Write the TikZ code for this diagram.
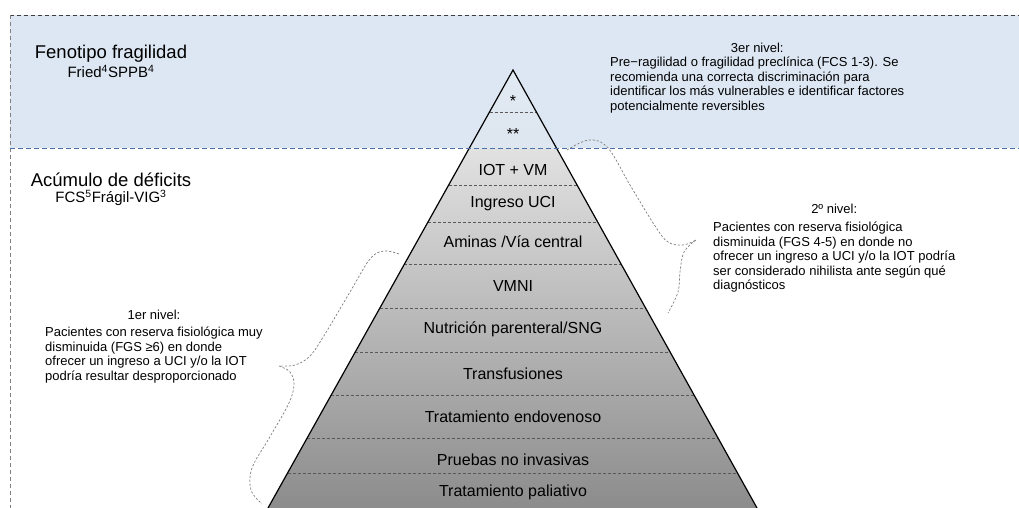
\documentclass[tikz,border=0pt]{standalone}
\usepackage{fontspec}
\setmainfont{Liberation Sans}
\usetikzlibrary{positioning,calc}
\definecolor{bandblue}{RGB}{221,231,243}
\definecolor{lineblue}{RGB}{74,112,168}
\definecolor{framegray}{RGB}{60,60,60}
\definecolor{bracegray}{RGB}{125,125,125}
\definecolor{pyrtop}{RGB}{244,244,244}
\definecolor{pyrmid}{RGB}{236,236,236}
\definecolor{pyrbot}{RGB}{140,140,140}
\tikzset{
  title/.style={font=\fontsize{18.5}{21}\selectfont, inner sep=0pt},
  subtitle/.style={font=\fontsize{15}{17}\selectfont, inner sep=0pt},
  nivhead/.style={font=\fontsize{13}{14.5}\selectfont, inner sep=0pt},
  nivbody/.style={font=\fontsize{13}{14.5}\selectfont, inner sep=0pt, align=left},
  rowlabel/.style={font=\fontsize{16}{18}\selectfont, inner sep=0pt},
  rowline/.style={draw=black!65, dash pattern=on 3pt off 2pt, line width=0.9pt},
  bracepath/.style={draw=bracegray, dash pattern=on 2.2pt off 1.8pt, line width=0.7pt},
}
\begin{document}
\begin{tikzpicture}[x=1pt,y=-1pt]
\useasboundingbox (0,0) rectangle (1019,508);
% band and frame
\fill[bandblue] (10,15) rectangle (1019,148);
\draw[framegray, dash pattern=on 4pt off 3pt, line width=0.9pt] (10,15) -- (1019,15);
\draw[gray, dash pattern=on 4pt off 3pt, line width=0.9pt] (10,15) -- (10,508);

% pyramid
\coordinate (apex) at (513,70);
\coordinate (bl) at (268,508);
\coordinate (br) at (757,508);
\shade[top color=pyrtop, middle color=pyrmid, bottom color=pyrbot] (apex) -- (br) -- (bl) -- cycle;
\begin{scope}
  \clip (0,0) rectangle (1019,148);
  \fill[bandblue, opacity=.8] (apex) -- (br) -- (bl) -- cycle;
\end{scope}
\draw[rowline] ($(apex)!.0959!(bl)$) -- ($(apex)!.0959!(br)$);
\draw[rowline] ($(apex)!.2626!(bl)$) -- ($(apex)!.2626!(br)$);
\draw[rowline] ($(apex)!.3470!(bl)$) -- ($(apex)!.3470!(br)$);
\draw[rowline] ($(apex)!.4429!(bl)$) -- ($(apex)!.4429!(br)$);
\draw[rowline] ($(apex)!.5434!(bl)$) -- ($(apex)!.5434!(br)$);
\draw[rowline] ($(apex)!.6438!(bl)$) -- ($(apex)!.6438!(br)$);
\draw[rowline] ($(apex)!.7420!(bl)$) -- ($(apex)!.7420!(br)$);
\draw[rowline] ($(apex)!.8402!(bl)$) -- ($(apex)!.8402!(br)$);
\draw[rowline] ($(apex)!.9201!(bl)$) -- ($(apex)!.9201!(br)$);
\draw[line width=1.2pt] (bl) -- (apex) -- (br);
\draw[lineblue, dash pattern=on 5pt off 3pt, line width=1pt] (10,148) -- (1019,148);

\node[rowlabel] (r1) at (513,101) {*};
\node[rowlabel] (r2) at (513,134) {**};
\node[rowlabel] (r3) at (513,170) {IOT + VM};
\node[rowlabel] (r4) at (513,204) {Ingreso UCI};
\node[rowlabel] (r5) at (513,242) {Aminas /Vía central};
\node[rowlabel] (r6) at (513,286) {VMNI};
\node[rowlabel] (r7) at (513,329) {Nutrición parenteral/SNG};
\node[rowlabel] (r8) at (513,374) {Transfusiones};
\node[rowlabel] (r9) at (513,417) {Tratamiento endovenoso};
\node[rowlabel] (r10) at (513,460) {Pruebas no invasivas};
\node[rowlabel] (r11) at (513,492) {Tratamiento paliativo};

% left titles
\node[title] (feno) at (111,54) {Fenotipo fragilidad};
\node[subtitle, below=2.5pt of feno] (fenoref) {Fried\textsuperscript{4}SPPB\textsuperscript{4}};
\node[title] (acum) at (111,180) {Acúmulo de déficits};
\node[subtitle, below=2.5pt of acum] (acumref) {FCS\textsuperscript{5}Frágil-VIG\textsuperscript{3}};

% levels
\node[nivbody, anchor=north west] (niv3body) at (610,57) {Pre−ragilidad o fragilidad preclínica (FCS 1-3). Se\\recomienda una correcta discriminación para\\identificar los más vulnerables e identificar factores\\potencialmente reversibles};
\node[nivhead, above=4.5pt of niv3body] (niv3) {3er nivel:};
\node[nivbody, anchor=north west] (niv2body) at (713,222) {Pacientes con reserva fisiológica\\disminuida (FGS 4-5) en donde no\\ofrecer un ingreso a UCI y/o la IOT podría\\ser considerado nihilista ante según qué\\diagnósticos};
\node[nivhead, above=8pt of niv2body] (niv2) {2º nivel:};
\node[nivbody, anchor=north west] (niv1body) at (45,327) {Pacientes con reserva fisiológica muy\\disminuida (FGS ≥6) en donde\\ofrecer un ingreso a UCI y/o la IOT\\podría resultar desproporcionado};
\node[nivhead, above=7pt of niv1body] (niv1) {1er nivel:};

% braces
\draw[bracepath] plot[smooth, tension=0.6] coordinates {(399,254) (384,251) (370,259) (350,292) (325,334) (310,356) (295,365) (279,366)};
\draw[bracepath] plot[smooth, tension=0.6] coordinates {(279,366) (290,372) (294,385) (288,405) (268,440) (252,468) (251,490) (262,504)};
\draw[bracepath] plot[smooth, tension=0.6] coordinates {(567,150) (589,140) (608,148) (630,185) (655,226) (668,242) (683,245) (696,240)};
\draw[bracepath] plot[smooth, tension=0.6] coordinates {(696,240) (684,252) (680,272) (678,292) (668,313)};
\end{tikzpicture}
\end{document}
